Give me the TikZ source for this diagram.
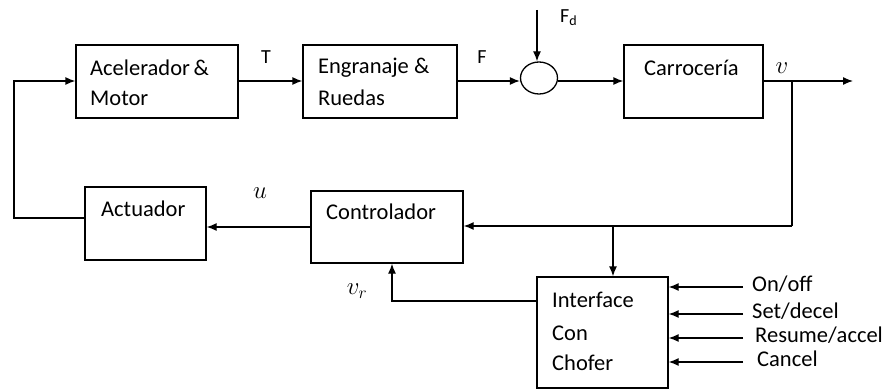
\documentclass[tikz,border=0pt]{standalone}
\usepackage{fontspec}
\setmainfont{Carlito}
\usetikzlibrary{arrows.meta,shapes.geometric}
\begin{document}
\begin{tikzpicture}[x=1pt,y=-1pt,
  blk/.style={draw,line width=1.3pt,inner sep=0pt},
  txt/.style={anchor=west,inner sep=0pt,font=\fontsize{22.5}{26}\selectfont},
  lbl/.style={inner sep=0pt,font=\fontsize{20}{24}\selectfont},
  inlbl/.style={anchor=west,inner sep=0pt,font=\fontsize{22.5}{26}\selectfont},
  mlbl/.style={inner sep=0pt,font=\fontsize{24}{28}\selectfont},
  ln/.style={line width=1.3pt},
  arr/.style={line width=1.3pt,-{Latex[length=10pt,width=8pt]}}]
\useasboundingbox (0,0) rectangle (888,390);
% blocks
\node[blk,minimum width=162pt,minimum height=73pt] (acc) at (157,81.5) {};
\node[blk,minimum width=154pt,minimum height=73pt] (eng) at (380,81.5) {};
\node[blk,ellipse,minimum width=37pt,minimum height=32pt] (sum) at (539,78) {};
\node[blk,minimum width=139pt,minimum height=73pt] (car) at (693.5,81.5) {};
\node[blk,minimum width=121pt,minimum height=73pt] (act) at (145.5,223.5) {};
\node[blk,minimum width=152pt,minimum height=72pt] (con) at (387,227) {};
\node[blk,minimum width=131pt,minimum height=111pt] (ifc) at (602.5,332.5) {};
% texts
\node[txt] (t1) at (90,68) {Acelerador\,\&};
\node[txt] (t2) at (90,98) {Motor};
\node[txt] (t3) at (318,68) {Engranaje \&};
\node[txt] (t4) at (318,98) {Ruedas};
\node[txt] (t5) at (644,68) {Carrocería};
\node[txt] (t6) at (101,209) {Actuador};
\node[txt] (t7) at (326,212) {Controlador};
\node[txt] (t8) at (552,300) {Interface};
\node[txt] (t9) at (552,333) {Con};
\node[txt] (t10) at (552,363) {Chofer};
% labels
\node[lbl] (lT) at (266,57) {T};
\node[lbl] (lF) at (482,57) {F};
\node[lbl,anchor=west] (lFd) at (560,18) {F\textsubscript{d}};
\node[mlbl] (lv) at (782,68) {$v$};
\node[mlbl] (lu) at (260,193) {$u$};
\node[mlbl] (lvr) at (357,291) {$v_r$};
% coordinates
\coordinate (fdtop) at (537,10);
\coordinate (outend) at (853,81);
\coordinate (br) at (792,81);
\coordinate (brd) at (792,226);
\coordinate (jn) at (613,226);
\coordinate (lc) at (14,218);
\coordinate (lt) at (14,81);
\coordinate (vc) at (392,301);
% connectors
\draw[arr] (acc.east |- 0,81) -- (eng.west |- 0,81);
\draw[arr] (eng.east |- 0,81) -- (sum.west |- 0,81);
\draw[arr] (fdtop) -- (sum.north -| fdtop);
\draw[arr] (sum.east |- 0,81) -- (car.west |- 0,81);
\draw[arr] (car.east |- 0,81) -- (outend);
\draw[ln] (br) -- (brd);
\draw[arr] (brd) -- (con.east |- brd);
\draw[arr] (jn) -- (ifc.north -| jn);
\draw[arr] (con.west |- 0,227) -- (act.east |- 0,227);
\draw[arr] (act.west |- lc) -- (lc) -- (lt) -- (acc.west |- lt);
\draw[arr] (ifc.west |- vc) -- (vc) -- (con.south -| vc);
% inputs
\foreach \y/\t/\x [count=\i] in {287/On\slash off/752,314/Set\slash decel/752,338/Resume\slash accel/755,362/Cancel/757}{
  \draw[arr] (743,\y) -- (ifc.east |- 0,\y);
  \node[inlbl] (in\i) at (\x,\y-3) {\t};
}
\end{tikzpicture}
\end{document}
